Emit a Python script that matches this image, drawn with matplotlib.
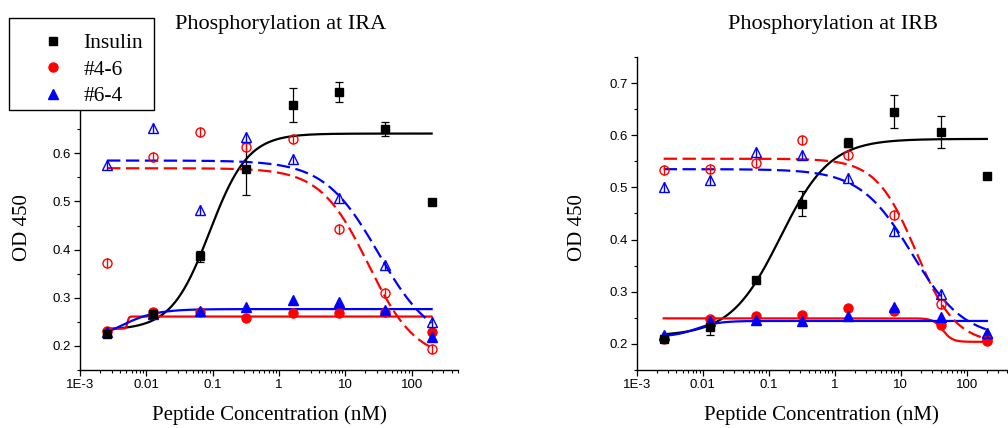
import numpy as np
import matplotlib
matplotlib.use("Agg")
import matplotlib.pyplot as plt
from matplotlib.lines import Line2D
from matplotlib.patches import Rectangle
from matplotlib.ticker import LogLocator, MultipleLocator, FuncFormatter, NullFormatter

# peptide concentration (nM), 5-fold dilutions
conc = [0.00256, 0.0128, 0.064, 0.32, 1.6, 8, 40, 200]

# IRA panel
ira_insulin = [0.224, 0.266, 0.386, 0.567, 0.700, 0.727, 0.650, 0.499]
ira_insulin_err = [0.005, 0.004, 0.011, 0.054, 0.035, 0.021, 0.015, 0.004]
ira_46_fill = [0.230, 0.271, 0.270, 0.257, 0.269, 0.269, 0.270, 0.228]
ira_64_fill = [0.229, 0.266, 0.273, 0.280, 0.296, 0.291, 0.274, 0.219]
ira_46_open = [0.373, 0.592, 0.645, 0.614, 0.630, 0.443, 0.310, 0.194]
ira_64_open = [0.576, 0.652, 0.482, 0.633, 0.588, 0.508, 0.368, 0.250]

# IRB panel
irb_insulin = [0.209, 0.232, 0.322, 0.469, 0.586, 0.645, 0.606, 0.521]
irb_insulin_err = [0.004, 0.015, 0.005, 0.024, 0.008, 0.032, 0.030, 0.0]
irb_46_fill = [0.210, 0.247, 0.254, 0.255, 0.269, 0.264, 0.236, 0.206]
irb_64_fill = [0.217, 0.243, 0.246, 0.243, 0.254, 0.270, 0.252, 0.221]
irb_46_open = [0.533, 0.536, 0.546, 0.590, 0.562, 0.447, 0.277, 0.208]
irb_64_open = [0.501, 0.514, 0.568, 0.562, 0.518, 0.417, 0.296, 0.220]

# logistic fit parameters (A1, A2, x0, p):  y = A2 + (A1 - A2) / (1 + (x/x0)^p)
ira_fit_insulin = (0.233, 0.641, 0.09, 1.5)
ira_fit_46_fill = (0.236, 0.261, 0.0052, 40)
ira_fit_64_fill = (0.205, 0.2765, 0.004, 1.6)
ira_fit_46_open = (0.569, 0.17, 22.2, 1.2)
ira_fit_64_open = (0.585, 0.20, 31.6, 1.06)

irb_fit_insulin = (0.215, 0.593, 0.149, 1.15)
irb_fit_46_fill = (0.249, 0.204, 43.0, 6)
irb_fit_64_fill = (0.214, 0.244, 0.008, 2.5)
irb_fit_46_open = (0.555, 0.20, 16.9, 1.44)
irb_fit_64_open = (0.535, 0.21, 14.8, 1.1)

SERIF = "Liberation Serif"
SANS = "Liberation Sans"
RED = "#FF0000"
BLUE = "#0000FF"
W, H = 1008, 428


def logistic(x, params):
    a1, a2, x0, p = params
    return a2 + (a1 - a2) / (1 + (x / x0) ** p)


def open_marker(ax, x, y, marker, color, ms):
    ax.plot(x, y, linestyle="none", marker=marker, ms=ms, mfc="none", mec=color, mew=1.0, zorder=4)
    ax.plot(x, y, linestyle="none", marker="|", ms=ms, mec=color, mew=1.0, zorder=4)


def draw_panel(ax, title, ylim, ylab_max, xmax, insulin, insulin_err, r_fill, b_fill, r_open, b_open, fits):
    xs = np.logspace(np.log10(conc[0]), np.log10(conc[-1]), 400)
    f_ins, f_r, f_b, f_ro, f_bo = fits
    lw = 1.6
    ax.plot(xs, logistic(xs, f_ins), color="black", lw=lw, zorder=2)
    ax.plot(xs, logistic(xs, f_r), color=RED, lw=lw, zorder=2)
    ax.plot(xs, logistic(xs, f_b), color=BLUE, lw=lw, zorder=2)
    ax.plot(xs, logistic(xs, f_ro), color=RED, lw=lw, dashes=(6, 2.5), zorder=2)
    ax.plot(xs, logistic(xs, f_bo), color=BLUE, lw=lw, dashes=(6, 2.5), zorder=2)

    ax.errorbar(conc, insulin, yerr=insulin_err, fmt="s", color="black", ms=6,
                capsize=3, elinewidth=0.9, capthick=0.9, zorder=3)
    ax.plot(conc, r_fill, linestyle="none", marker="o", ms=6.5, color=RED, zorder=3)
    ax.plot(conc, b_fill, linestyle="none", marker="^", ms=7, color=BLUE, zorder=3)
    open_marker(ax, conc, r_open, "o", RED, 6.5)
    open_marker(ax, conc, b_open, "^", BLUE, 7)

    ax.set_xscale("log")
    ax.set_xlim(1e-3, xmax)
    ax.set_ylim(*ylim)
    ax.xaxis.set_major_locator(LogLocator(base=10, numticks=12))
    ax.xaxis.set_minor_locator(LogLocator(base=10, subs=np.arange(2, 10), numticks=12))
    ax.xaxis.set_major_formatter(FuncFormatter(lambda v, pos: "1E-3" if abs(v - 1e-3) < 1e-9 else f"{v:g}"))
    ax.xaxis.set_minor_formatter(NullFormatter())
    ax.yaxis.set_major_locator(MultipleLocator(0.1))
    ax.yaxis.set_minor_locator(MultipleLocator(0.05))
    ax.yaxis.set_major_formatter(FuncFormatter(lambda v, pos: f"{v:.1f}" if v < ylab_max else ""))

    ax.tick_params(which="major", direction="out", length=4.5, width=0.9, labelsize=9.5, pad=2)
    ax.tick_params(which="minor", direction="out", length=2.5, width=0.8)
    for lab in ax.get_xticklabels() + ax.get_yticklabels():
        lab.set_fontfamily(SANS)
    for spine in ("top", "right"):
        ax.spines[spine].set_visible(False)
    for spine in ("left", "bottom"):
        ax.spines[spine].set_linewidth(1.0)

    ax.set_xlabel("Peptide Concentration (nM)", fontsize=15, fontfamily=SERIF)
    ax.set_ylabel("OD 450", fontsize=15, fontfamily=SERIF)
    ax.xaxis.set_label_coords(0.5, -0.113)
    ax.text(0.53, 1.103, title, transform=ax.transAxes, ha="center", va="center",
            fontsize=16, fontfamily=SERIF)


fig = plt.figure(figsize=(W / 100, H / 100), dpi=100)
ax1 = fig.add_axes([80 / W, 58 / H, 378 / W, 313 / H])
ax2 = fig.add_axes([636.7 / W, 58 / H, 370 / W, 313 / H])

draw_panel(ax1, "Phosphorylation at IRA", (0.15, 0.8), 0.65, 500,
           ira_insulin, ira_insulin_err, ira_46_fill, ira_64_fill, ira_46_open, ira_64_open,
           (ira_fit_insulin, ira_fit_46_fill, ira_fit_64_fill, ira_fit_46_open, ira_fit_64_open))
draw_panel(ax2, "Phosphorylation at IRB", (0.15, 0.75), 0.75, 400,
           irb_insulin, irb_insulin_err, irb_46_fill, irb_64_fill, irb_46_open, irb_64_open,
           (irb_fit_insulin, irb_fit_46_fill, irb_fit_64_fill, irb_fit_46_open, irb_fit_64_open))
ax1.yaxis.set_label_coords(-0.127, 0.454)
ax2.yaxis.set_label_coords(-0.134, 0.454)

# legend box drawn separately so its size matches the original
fig.patches.append(Rectangle((9 / W, 1 - 110 / H), 145 / W, 92 / H, transform=fig.transFigure,
                             facecolor="white", edgecolor="black", linewidth=1.0, zorder=5))
handles = [
    Line2D([], [], linestyle="none", marker="s", ms=6, color="black", label="Insulin"),
    Line2D([], [], linestyle="none", marker="o", ms=6.5, color=RED, label="#4-6"),
    Line2D([], [], linestyle="none", marker="^", ms=7, color=BLUE, label="#6-4"),
]
leg = fig.legend(handles=handles, loc="upper left", bbox_to_anchor=(42.6 / W, 1 - 33 / H),
                 borderaxespad=0, borderpad=0, frameon=False,
                 prop={"family": SERIF, "size": 15.5}, handlelength=1.0, handletextpad=0.9,
                 labelspacing=0.3)
leg.set_zorder(6)

fig.savefig("out.png", dpi=100)
